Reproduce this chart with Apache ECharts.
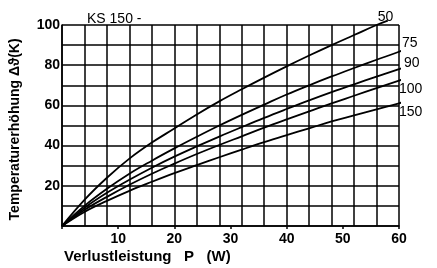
<!DOCTYPE html>
<html>
<head>
<meta charset="utf-8">
<script src="https://cdn.jsdelivr.net/npm/echarts@6/dist/echarts.min.js"></script>
<style>html,body{margin:0;padding:0;background:#fff}#c{width:437px;height:268px}</style>
</head>
<body>
<div id="c"></div>
<script>
const powerW = [0, 4, 8, 12, 16, 20, 24, 28, 32, 36, 40, 44, 48, 52, 56];
const ks50  = [0, 13, 24, 33.5, 41.5, 48.5, 55.5, 62, 68, 73.8, 79.4, 84.8, 90, 95, 100];
const ks75  = [0, 10, 18.5, 26, 32.5, 38.6, 44.4, 50, 55.3, 60.4, 65.4, 70, 74.4, 78.6, 82.7];
const ks90  = [0, 9, 16.5, 23, 29, 34.5, 39.6, 44.5, 49.2, 53.8, 58.2, 62.5, 66.6, 70.5, 74.3];
const ks100 = [0, 8, 14.5, 20.5, 26, 31, 35.8, 40.3, 44.6, 48.9, 53, 57, 61, 64.8, 68.6];
const ks150 = [0, 7, 12.5, 17.5, 22, 26.3, 30.3, 34.2, 38, 41.7, 45.2, 48.6, 52, 55, 58];
// end points beyond the last grid column
const endPoints = {
  '50':  [[58, 102.2]],
  '75':  [[60, 86.7], [61, 88]],
  '90':  [[60, 78], [61, 79]],
  '100': [[60, 72.3], [61.4, 73.5]],
  '150': [[60, 61], [61.5, 62.3]]
};
const seriesNames = ['50', '75', '90', '100', '150'];
const seriesValues = [ks50, ks75, ks90, ks100, ks150];
const labelOffsets = {'50': [-18, -3], '75': [-7, -8], '90': [-5, -5], '100': [-10, 9], '150': [-10, 9]};
const yTicks = [20, 40, 60, 80, 100];
const xTicks = [10, 20, 30, 40, 50, 60];

const black = '#000';
const font = 'Liberation Sans';

const series = seriesNames.map((n, i) => ({
  name: n,
  type: 'line',
  xAxisIndex: 0,
  smooth: 0.4,
  showSymbol: false,
  clip: false,
  silent: true,
  lineStyle: {color: black, width: 1.8},
  data: powerW.map((w, j) => [w, seriesValues[i][j]]).concat(endPoints[n]),
  endLabel: {
    show: true,
    formatter: n,
    color: black,
    fontFamily: font,
    fontSize: 14,
    offset: labelOffsets[n]
  }
}));

const chart = echarts.init(document.getElementById('c'), null, {renderer: 'canvas'});
chart.setOption({
  animation: false,
  backgroundColor: '#fff',
  title: {
    text: 'KS 150 -',
    left: 82, top: 7,
    textStyle: {fontFamily: font, fontSize: 14, fontWeight: 'normal', color: black}
  },
  grid: {left: 60, right: 38, top: 25, bottom: 42, containLabel: false},
  xAxis: [{
    type: 'value', min: 0, max: 60, interval: 4,
    axisLine: {show: true, lineStyle: {color: black, width: 1.5}},
    axisTick: {show: false},
    axisLabel: {show: false},
    splitLine: {show: true, lineStyle: {color: black, width: 1.5}}
  }, {
    type: 'value', min: 0, max: 60, interval: 10, position: 'bottom',
    axisLine: {show: false},
    axisTick: {show: true, length: 3, lineStyle: {color: black, width: 1.5}},
    splitLine: {show: false},
    axisLabel: {
      margin: 6,
      color: black, fontFamily: font, fontSize: 14, fontWeight: 'bold',
      formatter: v => xTicks.includes(v) ? String(v) : ''
    },
    name: 'Verlustleistung   P   (W)',
    nameLocation: 'start',
    nameGap: 0,
    nameTextStyle: {
      color: black, fontFamily: font, fontSize: 15, fontWeight: 'bold',
      align: 'left', verticalAlign: 'top', padding: [23, 0, 0, 2]
    }
  }],
  yAxis: {
    type: 'value', min: 0, max: 100, interval: 10,
    axisLine: {show: true, lineStyle: {color: black, width: 1.5}},
    axisTick: {show: false},
    splitLine: {show: true, lineStyle: {color: black, width: 1.5}},
    axisLabel: {
      margin: 2,
      color: black, fontFamily: font, fontSize: 14, fontWeight: 'bold',
      formatter: v => yTicks.includes(v) ? String(v) : ''
    },
    name: 'Temperaturerhöhung Δϑ(K)  ',
    nameLocation: 'middle',
    nameRotate: 90,
    nameGap: 40,
    nameTextStyle: {color: black, fontFamily: font, fontSize: 14, fontWeight: 'bold'}
  },
  series: series
});
</script>
</body>
</html>
